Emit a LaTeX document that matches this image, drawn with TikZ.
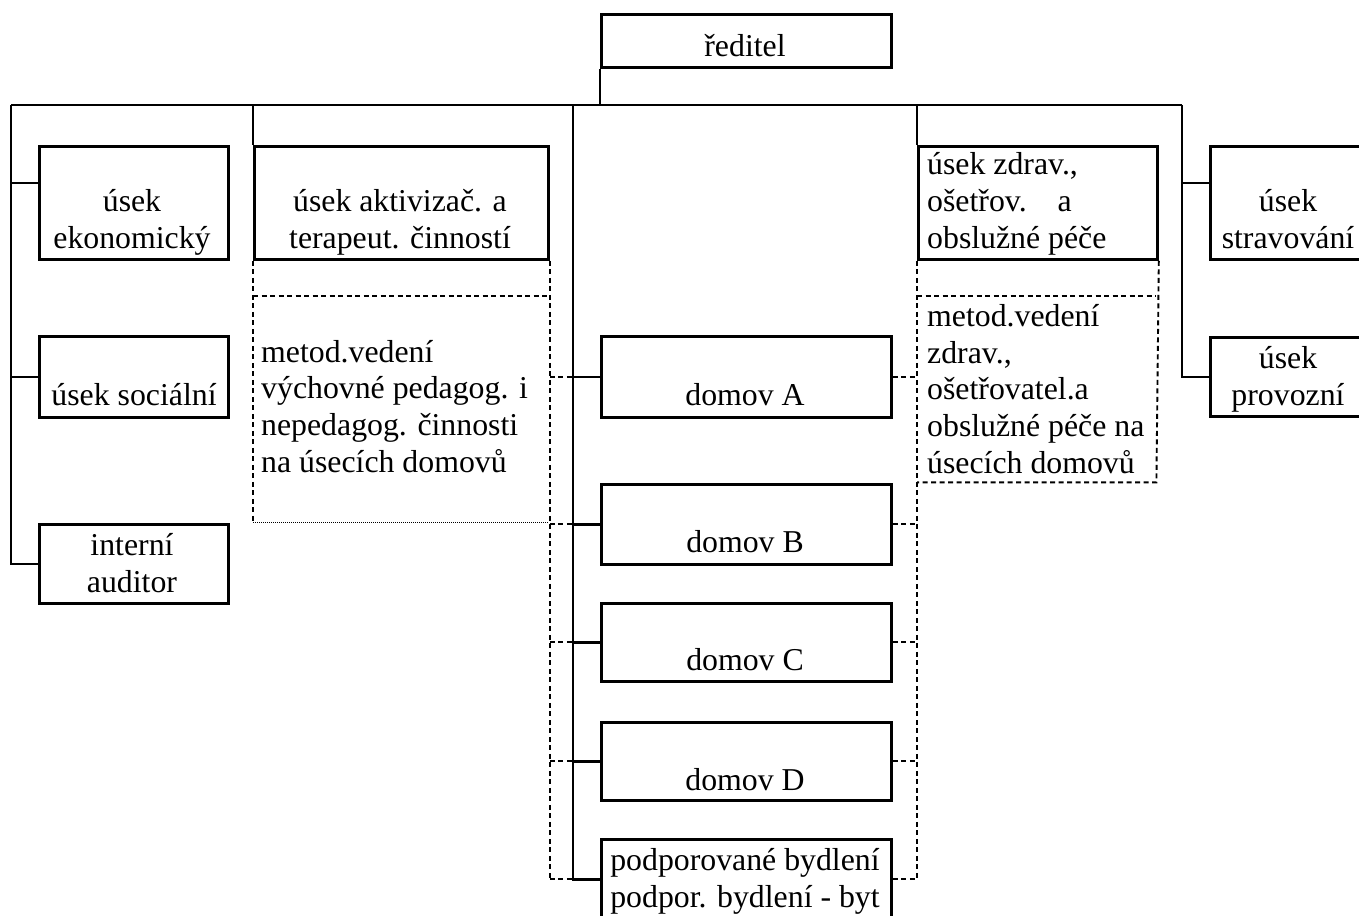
\documentclass[tikz,border=0pt]{standalone}
\usepackage{fontspec}
\setmainfont{Liberation Serif}
\usetikzlibrary{positioning}

\begin{document}
\begin{tikzpicture}[x=1pt,y=-1pt,
  unit/.style={draw,line width=2.8pt,rectangle,inner sep=0pt,anchor=north west},
  frame/.style={rectangle,inner sep=0pt,anchor=north west},
  txt/.style={inner sep=0pt,font=\fontsize{31.8}{36.6}\selectfont,align=center,anchor=base},
  ltxt/.style={txt,align=left,anchor=base west},
  link/.style={line width=2.8pt},
  staff/.style={line width=1.9pt,dash pattern=on 5pt off 3.5pt},
  fine/.style={line width=1.2pt,dash pattern=on 1pt off 1pt}]
\useasboundingbox (0,0) rectangle (1359,915);
\clip (0,0) rectangle (1359,915);

% boxes
\node[unit,minimum width=290pt,minimum height=53pt] (boss) at (600,13) {};
\node[unit,minimum width=189pt,minimum height=113pt] (ekon) at (38,145) {};
\node[unit,minimum width=294pt,minimum height=113pt] (aktiv) at (253,145) {};
\node[unit,minimum width=239pt,minimum height=113pt] (zdrav) at (917,145) {};
\node[unit,minimum width=158pt,minimum height=113pt] (strav) at (1209,145) {};
\node[unit,minimum width=189pt,minimum height=81pt] (soc) at (38,335) {};
\node[unit,minimum width=189pt,minimum height=79pt] (audit) at (38,523) {};
\node[unit,minimum width=158pt,minimum height=79pt] (provoz) at (1209,336) {};
\node[unit,minimum width=290pt,minimum height=81pt] (domA) at (600,335) {};
\node[unit,minimum width=290pt,minimum height=80pt] (domB) at (600,483) {};
\node[unit,minimum width=290pt,minimum height=78pt] (domC) at (600,602) {};
\node[unit,minimum width=290pt,minimum height=78pt] (domD) at (600,721) {};
\node[unit,minimum width=290pt,minimum height=80pt] (podp) at (600,838) {};
\node[frame,minimum width=294pt,minimum height=226pt] (metL) at (253,296) {};
\node[frame,minimum width=239pt,minimum height=186pt] (metR) at (917,296) {};

% texts
\node[txt] (bossT) at (745,57) {ředitel};
\node[txt] (ekonT) at (132,248) {úsek\\ekonomický};
\node[txt] (aktivT) at (400,248) {úsek aktivizač. a\\terapeut. činností};
\node[ltxt] (zdravT) at (927,248) {úsek zdrav.,\\ošetřov.\hspace{31pt}a\\obslužné péče};
\node[txt] (stravT) at (1288,248) {úsek\\stravování};
\node[txt] (socT) at (134,405) {úsek sociální};
\node[txt] (auditT) at (132,592) {interní\\auditor};
\node[txt] (provozT) at (1288,405) {úsek\\provozní};
\node[ltxt] (metLT) at (261,472) {metod.vedení\\výchovné pedagog. i\\nepedagog. činnosti\\na úsecích domovů};
\node[ltxt] (metRT) at (927,473) {metod.vedení\\zdrav.,\\ošetřovatel.a\\obslužné péče na\\úsecích domovů};
\node[txt] (domAT) at (745,405) {domov A};
\node[txt] (domBT) at (745,552) {domov B};
\node[txt] (domCT) at (745,670) {domov C};
\node[txt] (domDT) at (745,790) {domov D};
\node[txt] (podpT) at (745,907) {podporované bydlení\\podpor. bydlení - byt};

% solid lines
\coordinate (lt) at (11,105);
\coordinate (ct) at (573,105);
\coordinate (rt) at (1182,105);
\coordinate (ek) at ([yshift=-38pt]ekon.north west);
\coordinate (st) at ([yshift=-38pt]strav.north west);
\draw[link] (lt) -- (rt);
\draw[link] (boss.south west) -- (boss.south west |- lt);
\draw[link] (lt) |- (audit.west);
\draw[link] (lt |- ek) -- (ek);
\draw[link] (lt |- soc.west) -- (soc.west);
\draw[link] (aktiv.north west |- lt) -- (aktiv.north west);
\draw[link] (zdrav.north west |- lt) -- (zdrav.north west);
\draw[link] (rt) |- (provoz.west);
\draw[link] (rt |- st) -- (st);
\draw[link] (ct) |- (podp.west);
\draw[link] (ct |- domA.west) -- (domA.west);
\draw[link] (ct |- domB.west) -- (domB.west);
\draw[link] (ct |- domC.west) -- (domC.west);
\draw[link] (ct |- domD.west) -- (domD.west);

% dashed lines, left
\draw[staff] (aktiv.south west) -- (metL.south west) ;
\draw[staff] (metL.north west) -- (metL.north east);
\draw[fine] (metL.south west) -- (metL.south east);
\draw[staff] (aktiv.south east) -- (aktiv.south east |- podp.west);
\draw[staff] (aktiv.east |- domA.west) -- (ct |- domA.west);
\draw[staff] (aktiv.east |- domB.west) -- (ct |- domB.west);
\draw[staff] (aktiv.east |- domC.west) -- (ct |- domC.west);
\draw[staff] (aktiv.east |- domD.west) -- (ct |- domD.west);
\draw[staff] (aktiv.east |- podp.west) -- (ct |- podp.west);

% dashed lines, right
\draw[staff] (zdrav.south east) -- (metR.south east) -- (metR.south west);
\draw[staff] (metR.north west) -- (metR.north east);
\draw[staff] (zdrav.south west) -- (zdrav.south west |- podp.east);
\draw[staff] (domA.east) -- (domA.east -| metR.west);
\draw[staff] (domB.east) -- (domB.east -| metR.west);
\draw[staff] (domC.east) -- (domC.east -| metR.west);
\draw[staff] (domD.east) -- (domD.east -| metR.west);
\draw[staff] (podp.east) -- (podp.east -| metR.west);
\end{tikzpicture}
\end{document}
